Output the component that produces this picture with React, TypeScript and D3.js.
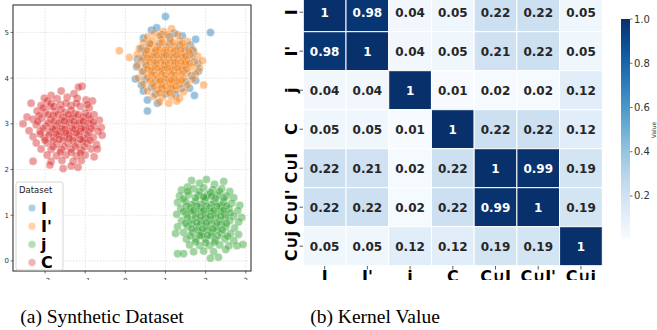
import * as React from "react"
import { scaleLinear, scaleSequential, scaleBand, interpolateBlues } from "d3"

// scatter data (x, y)
const pointsI = [
  [1.0, 5.35], [2.12, 5.0], [0.55, 3.28], [0.55, 3.52], [0.8, 3.45], [1.72, 3.62], [0.65, 5.05], [0.78, 5.1],
  [1.22, 4.98], [1.42, 4.92], [1.75, 4.85], [1.62, 4.72], [1.7, 4.58], [0.45, 4.88], [0.4, 4.65], [0.3, 4.42],
  [0.28, 4.25], [0.25, 3.98], [0.4, 3.85], [0.45, 3.72], [1.6, 3.78], [1.75, 3.95], [1.82, 4.15], [1.8, 4.32],
  [0.9, 4.95], [1.1, 4.9], [0.6, 4.75], [0.85, 4.75], [1.1, 4.75], [1.35, 4.72], [0.5, 4.6], [0.75, 4.58],
  [1.0, 4.55], [1.25, 4.58], [1.5, 4.6], [0.45, 4.45], [0.7, 4.45], [0.95, 4.46], [1.2, 4.45], [1.45, 4.45],
  [1.65, 4.45], [0.5, 4.3], [0.75, 4.32], [1.0, 4.3], [1.25, 4.32], [1.5, 4.3], [0.45, 4.15], [0.7, 4.16],
  [0.95, 4.18], [1.2, 4.16], [1.45, 4.16], [1.65, 4.05], [0.5, 3.98], [0.75, 3.95], [1.0, 3.96], [1.25, 3.95],
  [1.5, 3.92], [0.65, 3.8], [0.9, 3.78], [1.15, 3.76], [1.4, 3.78], [0.75, 3.65], [1.0, 3.66], [1.25, 3.64],
]

const pointsI2 = [
  [0.95, 5.02], [1.15, 5.08], [0.72, 4.98], [1.3, 4.95], [0.55, 4.9], [0.45, 4.78], [0.68, 4.82], [0.9, 4.85],
  [1.12, 4.84], [1.35, 4.82], [1.55, 4.8], [0.35, 4.65], [0.58, 4.68], [0.8, 4.7], [1.02, 4.7], [1.25, 4.7],
  [1.48, 4.68], [1.68, 4.62], [0.3, 4.52], [0.5, 4.54], [0.72, 4.56], [0.95, 4.56], [1.18, 4.56], [1.4, 4.55],
  [1.62, 4.52], [1.8, 4.48], [-0.15, 4.6], [0.1, 4.45], [0.4, 4.4], [0.62, 4.42], [0.85, 4.42], [1.08, 4.42],
  [1.3, 4.42], [1.52, 4.4], [1.72, 4.36], [1.92, 4.38], [0.3, 4.28], [0.52, 4.28], [0.75, 4.28], [0.98, 4.28],
  [1.2, 4.28], [1.42, 4.28], [1.65, 4.25], [1.85, 4.22], [0.42, 4.14], [0.65, 4.15], [0.88, 4.14], [1.1, 4.14],
  [1.32, 4.15], [1.55, 4.12], [1.75, 4.1], [0.32, 4.0], [0.55, 4.02], [0.78, 4.0], [1.0, 4.0], [1.22, 4.0],
  [1.45, 4.0], [1.68, 3.98], [0.45, 3.86], [0.68, 3.88], [0.9, 3.86], [1.12, 3.87], [1.35, 3.86], [1.55, 3.85],
  [1.95, 3.85], [0.55, 3.72], [0.8, 3.74], [1.02, 3.72], [1.25, 3.74], [1.45, 3.7], [0.7, 3.6], [0.92, 3.58],
  [1.15, 3.6], [1.35, 3.56], [0.85, 3.48], [1.08, 3.45], [1.28, 3.5], [0.75, 4.62], [1.0, 4.62], [1.25, 4.62],
  [0.65, 4.48], [0.9, 4.48], [1.15, 4.48], [1.4, 4.48], [0.75, 4.35], [1.0, 4.35], [1.25, 4.35], [1.5, 4.34],
  [0.65, 4.22], [0.9, 4.21], [1.15, 4.21], [1.4, 4.21], [0.75, 4.07], [1.0, 4.07], [1.25, 4.07], [0.85, 3.93],
  [1.1, 3.93], [1.3, 3.93], [0.9, 3.8], [1.15, 3.8], [0.85, 4.92], [1.05, 4.95], [0.62, 4.75], [0.92, 4.78],
  [1.18, 4.78], [1.42, 4.76], [0.55, 4.6], [0.85, 4.62], [1.12, 4.62], [1.38, 4.62], [1.58, 4.58], [0.55, 4.45],
  [0.78, 4.5], [1.02, 4.5], [1.28, 4.5], [1.5, 4.48], [0.6, 4.35], [0.88, 4.35], [1.12, 4.35], [1.38, 4.35],
  [1.6, 4.32], [0.55, 4.2], [0.8, 4.22], [1.05, 4.22], [1.3, 4.22], [1.52, 4.2], [0.65, 4.08], [0.9, 4.08],
  [1.15, 4.08], [1.4, 4.08], [0.62, 3.95], [0.88, 3.95], [1.15, 3.96], [1.4, 3.95], [0.72, 3.82], [1.0, 3.82],
  [1.25, 3.82], [0.85, 3.68], [1.1, 3.68],
]

const pointsJ = [
  [1.65, 1.76], [2.02, 1.78], [2.45, 1.74], [1.85, 1.7], [2.22, 1.68], [1.55, 1.62], [1.4, 1.55], [1.7, 1.58],
  [1.95, 1.6], [2.18, 1.56], [2.4, 1.58], [2.6, 1.52], [1.35, 1.42], [1.58, 1.45], [1.82, 1.44], [2.05, 1.45],
  [2.3, 1.44], [2.52, 1.42], [2.7, 1.38], [1.3, 1.28], [1.5, 1.3], [1.74, 1.3], [1.98, 1.32], [2.22, 1.3],
  [2.45, 1.3], [2.65, 1.26], [2.85, 1.22], [1.38, 1.15], [1.62, 1.16], [1.86, 1.17], [2.1, 1.16], [2.35, 1.18],
  [2.58, 1.15], [2.8, 1.1], [1.28, 1.02], [1.52, 1.02], [1.75, 1.03], [2.0, 1.02], [2.25, 1.04], [2.48, 1.02],
  [2.7, 0.98], [2.9, 0.95], [1.4, 0.88], [1.65, 0.9], [1.88, 0.88], [2.12, 0.9], [2.36, 0.88], [2.6, 0.88],
  [2.82, 0.85], [1.3, 0.75], [1.55, 0.76], [1.78, 0.75], [2.02, 0.76], [2.26, 0.75], [2.5, 0.74], [2.72, 0.72],
  [1.25, 0.6], [1.45, 0.62], [1.68, 0.62], [1.92, 0.62], [2.15, 0.62], [2.4, 0.6], [2.62, 0.6], [2.82, 0.58],
  [1.52, 0.48], [1.75, 0.48], [2.0, 0.48], [2.25, 0.46], [2.48, 0.48], [2.7, 0.45], [1.6, 0.35], [1.85, 0.34],
  [2.1, 0.34], [2.35, 0.35], [2.58, 0.33], [2.78, 0.33], [2.93, 0.36], [1.3, 0.16], [1.45, 0.16], [1.7, 0.2],
  [1.95, 0.22], [2.2, 0.2], [2.32, 0.08], [2.12, 0.06], [2.5, 0.25], [1.75, 1.38], [2.0, 1.38], [2.25, 1.37],
  [1.65, 1.23], [1.9, 1.24], [2.15, 1.24], [2.4, 1.23], [1.62, 1.08], [1.88, 1.09], [2.12, 1.09], [2.38, 1.1],
  [1.75, 0.96], [2.0, 0.95], [2.25, 0.96], [2.5, 0.95], [1.65, 0.82], [1.9, 0.82], [2.15, 0.82], [2.4, 0.81],
  [1.8, 0.68], [2.05, 0.69], [2.3, 0.68], [1.9, 0.55], [2.15, 0.55], [1.55, 1.52], [1.85, 1.52], [2.12, 1.5],
  [2.35, 1.52], [1.45, 1.36], [1.95, 1.4], [2.15, 1.42], [2.45, 1.38], [1.52, 1.2], [1.78, 1.2], [2.02, 1.2],
  [2.28, 1.2], [2.52, 1.2], [1.45, 1.08], [1.7, 1.1], [1.95, 1.1], [2.2, 1.1], [2.45, 1.1], [2.62, 1.05],
  [1.55, 0.95], [1.88, 0.97], [2.12, 0.98], [2.38, 0.98], [1.5, 0.82], [1.78, 0.84], [2.02, 0.84], [2.28, 0.83],
  [2.52, 0.82], [1.65, 0.7], [1.92, 0.7], [2.18, 0.7], [2.42, 0.68], [1.62, 0.55], [1.85, 0.56], [2.05, 0.56],
  [2.3, 0.55], [2.55, 0.54], [1.75, 0.42], [2.0, 0.4], [2.22, 0.41],
]

const pointsC = [
  [-1.08, 3.82], [-1.17, 3.8], [-1.6, 3.72], [-1.28, 3.66], [-1.85, 3.62], [-2.02, 3.56], [-1.95, 3.5], [-1.7, 3.55],
  [-1.45, 3.58], [-1.2, 3.56], [-0.98, 3.52], [-0.82, 3.5], [-2.35, 3.45], [-2.1, 3.4], [-1.88, 3.38], [-1.62, 3.42],
  [-1.35, 3.4], [-1.12, 3.38], [-0.9, 3.35], [-2.2, 3.28], [-2.0, 3.25], [-1.75, 3.27], [-1.5, 3.25], [-1.25, 3.22],
  [-1.0, 3.24], [-0.78, 3.2], [-2.45, 3.15], [-2.3, 3.1], [-2.08, 3.12], [-1.85, 3.1], [-1.6, 3.08], [-1.38, 3.1],
  [-1.12, 3.08], [-0.88, 3.1], [-0.65, 3.08], [-2.55, 3.0], [-2.22, 2.98], [-1.98, 2.96], [-1.72, 2.95], [-1.48, 2.95],
  [-1.25, 2.97], [-1.0, 2.94], [-0.78, 2.96], [-0.6, 2.92], [-2.4, 2.85], [-2.12, 2.84], [-1.88, 2.82], [-1.62, 2.83],
  [-1.38, 2.82], [-1.12, 2.84], [-0.9, 2.82], [-0.68, 2.84], [-2.3, 2.72], [-2.02, 2.7], [-1.78, 2.7], [-1.52, 2.72],
  [-1.28, 2.7], [-1.02, 2.68], [-0.8, 2.7], [-0.58, 2.75], [-2.22, 2.58], [-1.95, 2.58], [-1.7, 2.56], [-1.42, 2.58],
  [-1.18, 2.56], [-0.95, 2.58], [-0.72, 2.55], [-2.1, 2.45], [-1.85, 2.44], [-1.6, 2.44], [-1.35, 2.45], [-1.1, 2.42],
  [-0.85, 2.45], [-0.7, 2.45], [-1.95, 2.32], [-1.72, 2.3], [-1.48, 2.32], [-1.22, 2.3], [-1.0, 2.32], [-2.3, 2.18],
  [-1.85, 2.18], [-1.58, 2.2], [-1.3, 2.18], [-1.1, 2.2], [-0.78, 2.28], [-1.55, 2.02], [-1.35, 2.08], [-1.18, 2.05],
  [-1.88, 2.1], [-1.8, 3.18], [-1.55, 3.15], [-1.3, 3.16], [-1.05, 3.15], [-1.92, 3.02], [-1.65, 3.02], [-1.4, 3.03],
  [-1.15, 3.02], [-0.92, 3.02], [-1.75, 2.88], [-1.5, 2.88], [-1.25, 2.88], [-1.0, 2.88], [-1.9, 2.76], [-1.65, 2.76],
  [-1.4, 2.76], [-1.15, 2.76], [-1.8, 2.63], [-1.55, 2.64], [-1.3, 2.63], [-1.05, 2.63], [-1.6, 3.32], [-1.35, 3.3],
  [-1.85, 3.45], [-2.05, 3.35], [-1.78, 3.38], [-1.48, 3.45], [-1.22, 3.45], [-0.95, 3.42], [-2.15, 3.18], [-1.92, 3.2],
  [-1.68, 3.2], [-1.42, 3.2], [-1.18, 3.2], [-0.92, 3.18], [-2.18, 3.05], [-1.78, 3.05], [-1.52, 3.06], [-1.28, 3.05],
  [-1.05, 3.05], [-0.8, 3.04], [-2.05, 2.9], [-1.82, 2.9], [-1.58, 2.9], [-1.32, 2.9], [-1.1, 2.9], [-0.85, 2.9],
  [-2.12, 2.78], [-1.72, 2.78], [-1.48, 2.8], [-1.22, 2.8], [-0.95, 2.76], [-2.0, 2.64], [-1.65, 2.66], [-1.4, 2.68],
  [-1.12, 2.66], [-0.88, 2.64], [-1.8, 2.5], [-1.52, 2.5], [-1.25, 2.5], [-1.02, 2.5], [-1.62, 2.38], [-1.35, 2.38],
  [-1.12, 2.36],
]

const datasetNames = ["I", "I'", "j", "C"]
const datasetColors = ["#1f77b4", "#ff7f0e", "#2ca02c", "#d62728"]
const datasetPoints = [pointsI, pointsI2, pointsJ, pointsC]
const scatterXTicks = [-2, -1, 0, 1, 2, 3]
const scatterYTicks = [0, 1, 2, 3, 4, 5]

// kernel matrix
const kernelLabels = ["I", "I'", "j", "C", "C∪I", "C∪I'", "C∪j"]
const kernelValues = [
  [1, 0.98, 0.04, 0.05, 0.22, 0.22, 0.05],
  [0.98, 1, 0.04, 0.05, 0.21, 0.22, 0.05],
  [0.04, 0.04, 1, 0.01, 0.02, 0.02, 0.12],
  [0.05, 0.05, 0.01, 1, 0.22, 0.22, 0.12],
  [0.22, 0.21, 0.02, 0.22, 1, 0.99, 0.19],
  [0.22, 0.22, 0.02, 0.22, 0.99, 1, 0.19],
  [0.05, 0.05, 0.12, 0.12, 0.19, 0.19, 1],
]
const colorbarTicks = [0.2, 0.4, 0.6, 0.8, 1.0]

const W = 657
const H = 330
const sans = "DejaVu Sans, sans-serif"

export default function App() {
  // scatter panel
  const sx = scaleLinear().domain([-2.8, 3.13]).range([13, 251])
  const sy = scaleLinear().domain([-0.22, 5.6]).range([271, 5])

  // heatmap panel
  const hx = scaleBand().domain(kernelLabels).range([303.3, 602.3])
  const hy = scaleBand().domain(kernelLabels).range([-7.3, 265.7])
  const color = scaleSequential(interpolateBlues).domain([0.01, 1])
  const cb = scaleLinear().domain([0.01, 1]).range([238, 19])
  const cbStops = [0, 0.1, 0.2, 0.3, 0.4, 0.5, 0.6, 0.7, 0.8, 0.9, 1]

  const fmt = (v: number) => (v === 1 ? "1" : String(v))

  return (
    <svg width={W} height={H} style={{ position: "absolute", left: 0, top: 0, background: "#fff" }}>
      <defs>
        <clipPath id="fig">
          <rect x={0} y={0} width={W} height={280} />
        </clipPath>
        <clipPath id="axes">
          <rect x={sx.range()[0]} y={sy.range()[1]} width={sx.range()[1] - sx.range()[0]} height={sy.range()[0] - sy.range()[1]} />
        </clipPath>
        <linearGradient id="cbar" x1="0" y1="1" x2="0" y2="0">
          {cbStops.map((t) => (
            <stop key={t} offset={t} stopColor={interpolateBlues(t)} />
          ))}
        </linearGradient>
      </defs>

      <g clipPath="url(#fig)">
        {/* scatter grid */}
        <g stroke="#d9d9d9" strokeWidth={0.7} strokeDasharray="1.5,1.5">
          {scatterXTicks.map((t) => (
            <line key={"gx" + t} x1={sx(t)} x2={sx(t)} y1={sy.range()[1]} y2={sy.range()[0]} />
          ))}
          {scatterYTicks.map((t) => (
            <line key={"gy" + t} x1={sx.range()[0]} x2={sx.range()[1]} y1={sy(t)} y2={sy(t)} />
          ))}
        </g>

        <g clipPath="url(#axes)">
          {datasetPoints.map((pts, k) => (
            <g key={k} fill={datasetColors[k]} fillOpacity={0.45} stroke="#fff" strokeOpacity={0.45} strokeWidth={0.6}>
              {pts.map((p, i) => (
                <circle key={i} cx={sx(p[0])} cy={sy(p[1])} r={4} />
              ))}
            </g>
          ))}
        </g>

        <rect x={13} y={5} width={238} height={266} fill="none" stroke="#333" strokeWidth={1.1} />

        {scatterYTicks.map((t) => (
          <g key={"ty" + t}>
            <line x1={10.5} x2={13} y1={sy(t)} y2={sy(t)} stroke="#333" strokeWidth={0.7} />
            <text x={9} y={sy(t)} dy="0.35em" textAnchor="end" fontFamily={sans} fontSize={7} fill="#333">
              {t}
            </text>
          </g>
        ))}
        {scatterXTicks.map((t) => (
          <g key={"tx" + t}>
            <line x1={sx(t)} x2={sx(t)} y1={271} y2={273.5} stroke="#333" strokeWidth={0.7} />
            <text x={sx(t)} y={283} textAnchor="middle" fontFamily={sans} fontSize={7} fill="#333">
              {t < 0 ? "\u2212" + Math.abs(t) : t}
            </text>
          </g>
        ))}

        {/* legend */}
        <rect x={16} y={182} width={47} height={88} rx={2} fill="#fff" fillOpacity={0.85} stroke="#ccc" strokeWidth={0.8} />
        <text x={19} y={193} fontFamily={sans} fontSize={8.5} fill="#222">
          Dataset
        </text>
        {datasetNames.map((n, k) => (
          <g key={n} transform={`translate(0, ${208 + k * 18.2})`}>
            <circle cx={32} cy={0} r={4} fill={datasetColors[k]} fillOpacity={0.35} stroke="#fff" strokeWidth={0.6} />
            <text x={41} y={0} dy="0.36em" fontFamily={sans} fontWeight="bold" fontSize={16} fill="#000">
              {n}
            </text>
          </g>
        ))}

        {/* heatmap */}
        {kernelValues.map((row, i) =>
          row.map((v, j) => (
            <g key={i + "-" + j}>
              <rect
                x={hx(kernelLabels[j])}
                y={hy(kernelLabels[i])}
                width={hx.bandwidth()}
                height={hy.bandwidth()}
                fill={color(v)}
                stroke="#fff"
                strokeWidth={1}
              />
              <text
                x={(hx(kernelLabels[j]) as number) + hx.bandwidth() / 2}
                y={(hy(kernelLabels[i]) as number) + hy.bandwidth() / 2}
                dy="0.36em"
                textAnchor="middle"
                fontFamily={sans}
                fontWeight="bold"
                fontSize={12}
                fill={v > 0.6 ? "#fff" : "#262626"}
              >
                {fmt(v)}
              </text>
            </g>
          ))
        )}

        {kernelLabels.map((l) => {
          const cy = (hy(l) as number) + hy.bandwidth() / 2
          const cx = (hx(l) as number) + hx.bandwidth() / 2
          return (
            <g key={"l" + l}>
              <line x1={299.5} x2={303} y1={cy} y2={cy} stroke="#333" strokeWidth={0.8} />
              <text
                transform={`translate(291, ${cy}) rotate(-90)`}
                dy="0.36em"
                textAnchor="middle"
                fontFamily={sans}
                fontWeight="bold"
                fontSize={16}
                fill="#000"
              >
                {l}
              </text>
              <line x1={cx} x2={cx} y1={266} y2={269.5} stroke="#333" strokeWidth={0.8} />
              <text x={cx} y={282} textAnchor="middle" fontFamily={sans} fontWeight="bold" fontSize={16} fill="#000">
                {l}
              </text>
            </g>
          )
        })}

        {/* colorbar */}
        <rect x={621} y={19} width={9} height={219} fill="url(#cbar)" />
        {colorbarTicks.map((t) => (
          <g key={"cb" + t}>
            <line x1={630} x2={632.5} y1={cb(t)} y2={cb(t)} stroke="#333" strokeWidth={0.7} />
            <text x={634} y={cb(t)} dy="0.35em" fontFamily={sans} fontSize={10} fill="#333">
              {t.toFixed(1)}
            </text>
          </g>
        ))}
        <text transform="translate(654, 130) rotate(-90)" dy="0.35em" textAnchor="middle" fontFamily={sans} fontSize={6} fill="#333">
          Value
        </text>
      </g>

      {/* captions */}
      <text x={102} y={323} textAnchor="middle" fontFamily="Liberation Serif, serif" fontSize={19.5} fill="#000">
        (a) Synthetic Dataset
      </text>
      <text x={375} y={323} textAnchor="middle" fontFamily="Liberation Serif, serif" fontSize={19.5} fill="#000">
        (b) Kernel Value
      </text>
    </svg>
  )
}
